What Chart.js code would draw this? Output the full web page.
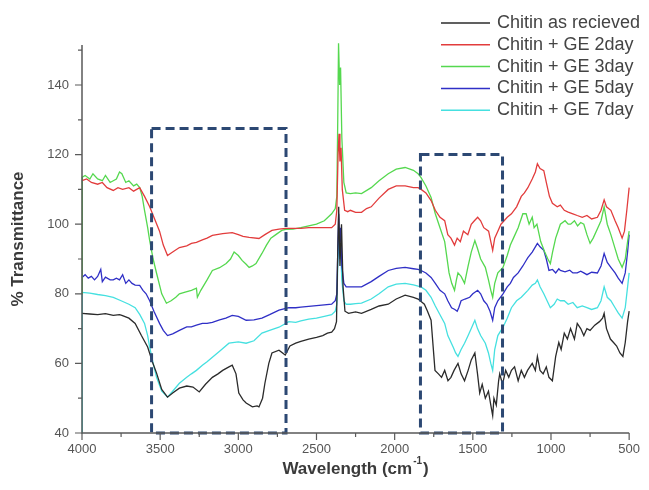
<!DOCTYPE html>
<html><head><meta charset="utf-8">
<script src="https://cdn.jsdelivr.net/npm/chart.js@4.4.1/dist/chart.umd.min.js"></script>
<style>html,body{margin:0;padding:0;background:#fff;}canvas{display:block;}</style>
</head><body>
<canvas id="c" width="649" height="490"></canvas>
<script>
// ---- data (wavenumber in cm^-1, % transmittance) ----
const seriesLabels = ['Chitin as recieved','Chitin + GE 2day','Chitin + GE 3day','Chitin + GE 5day','Chitin + GE 7day'];

const blackWn = [4000,3950,3900,3850,3800,3760,3745,3700,3660,3620,3580,3550,3523,3490,3453,3420,3377,3330,3290,3250,3210,3166,3130,3100,3060,3039,3015,2997,2970,2950,2910,2880,2868,2845,2830,2805,2785,2740,2700,2670,2633,2600,2550,2500,2460,2430,2403,2385,2372,2365,2358,2350,2340,2330,2318,2295,2250,2212,2150,2100,2041,1990,1933,1880,1850,1810,1790,1767,1742,1720,1700,1680,1659,1640,1620,1595,1575,1553,1530,1510,1487,1470,1456,1440,1420,1400,1385,1373,1365,1350,1335,1328,1310,1290,1270,1253,1233,1210,1190,1170,1150,1120,1100,1087,1070,1050,1030,1013,991,970,950,935,915,895,875,850,832,810,790,770,750,720,690,670,660,645,620,600,580,559,540,525,510,500];
const blackT  = [74.4,74.2,74.0,74.3,73.8,74.0,73.8,73.0,71.5,68,64.7,60.5,57.2,52.5,50.3,51.5,52.9,53.5,53.2,51.8,54,56,57,58,59,59.5,57,51.5,49.5,48.6,47.5,47.8,47.5,50,54.3,60,63,63.8,62.4,65,65.8,66.3,67,67.5,68,68.7,69,70,72,90,105,88,100,82,75,74.4,74.8,74.4,75.5,76.5,77,78.5,79.6,79,78.5,77,75,72.4,58,57,56,58,55,56,58,60,57,55,58,61,63,57,51.5,54,50,52,48,45,50,48,55,57,54,58,56,58,59,55,58,56,58,60,58,62,58,57,59,56,55,62,66,64,68.7,67,70,67,71.5,70,68,70,69.5,71,72,73,74.4,70,67,66,65,63,62,66,72,75];

const redWn = [4000,3970,3940,3900,3870,3840,3800,3770,3740,3700,3670,3631,3600,3567,3540,3504,3480,3453,3420,3377,3330,3300,3268,3230,3200,3166,3100,3039,3000,2970,2931,2868,2830,2785,2740,2696,2650,2600,2550,2500,2450,2403,2380,2370,2362,2356,2350,2343,2335,2320,2300,2283,2250,2212,2180,2150,2100,2041,1990,1933,1880,1850,1831,1800,1767,1740,1710,1680,1660,1640,1617,1600,1580,1560,1532,1510,1490,1469,1450,1430,1399,1385,1373,1360,1340,1320,1300,1280,1253,1220,1190,1170,1148,1120,1100,1087,1070,1046,1030,1010,991,960,940,915,890,860,832,800,770,740,703,680,660,645,617,590,570,545,530,515,500];
const redT  = [112.5,113,112,111.5,112,110.5,109.7,110.5,110,110.5,109.5,110.5,108,105,102,98,94,91,92,93.3,93.8,94.5,94.8,95.5,96,96.8,97.3,97.6,97,96.5,96.2,95.9,97,98.2,98.6,98.8,98.8,98.8,99,99,99,99,100,104,120,126,118,122,110,104,103.6,104,103.4,103.4,104.5,105,107.5,110,111,111,110.5,110.5,110,109,106.8,104,102,101,97,96,94,96,95,98,97,100,101,102,101,99,98,95,92.5,96,98,100,101,102,103,105,108,109,110.5,113,115,117.4,116,115.4,112,108,106,105,105.5,104,103.5,103,102.5,102,102.5,101.5,102,104,107,105,104,101,99,96,98,104,110.5];

const greenWn = [4000,3998,3980,3950,3930,3900,3870,3850,3820,3800,3780,3760,3745,3720,3700,3670,3650,3631,3615,3600,3580,3567,3545,3523,3490,3460,3430,3400,3377,3340,3300,3268,3262,3240,3200,3166,3120,3078,3050,3027,3000,2976,2950,2931,2910,2887,2849,2820,2792,2760,2722,2696,2650,2600,2550,2500,2450,2403,2380,2370,2364,2359,2352,2346,2338,2325,2310,2283,2250,2212,2150,2100,2041,1990,1933,1880,1850,1831,1800,1767,1740,1710,1680,1652,1635,1617,1605,1595,1575,1553,1530,1510,1487,1470,1450,1420,1400,1385,1373,1360,1340,1307,1280,1260,1240,1210,1180,1159,1140,1120,1108,1090,1066,1040,1020,1004,990,970,955,940,910,890,874,850,830,810,790,770,750,730,700,680,660,640,617,590,570,545,525,510,500];
const greenT  = [80,113.5,114,113,114.5,113,112.5,114,112,112.5,113,115,114.5,112,112.5,111,111.5,110.5,108,104,99,95.3,90,85.9,80,77.3,78,79,80,80.5,81,81.6,79,81,84,86.7,87.5,88.7,90,92,91,89.6,88.5,87.6,88,88.7,91.6,94,96,97,98.2,98.5,98.6,99,99.5,100,101,103,104.5,108,130,152,140,145,125,112,109,108.8,109,108.8,110.5,112.5,114.5,115.8,116.3,115.5,114.5,113.4,111,107.7,103,99,95,86,83,81,84,86,85,83,88,92,95.3,93,90,87.6,84,81,79,83,86,87.6,91,94,96,99,103,103,100,102,99,100,95,92,90,88.7,92,96,98,100,101,100,100,101,99.5,100.5,100,97,94.5,96,99,101,105,100,97,93,90,87.6,90,95,98];

const blueWn = [4000,3980,3960,3940,3920,3900,3880,3870,3850,3820,3800,3780,3760,3740,3720,3700,3680,3660,3631,3610,3590,3567,3540,3504,3480,3453,3420,3377,3330,3300,3268,3230,3200,3166,3120,3080,3039,3000,2950,2900,2849,2800,2740,2677,2633,2600,2550,2500,2450,2403,2380,2370,2364,2358,2352,2346,2338,2325,2310,2283,2250,2212,2150,2100,2041,1990,1933,1880,1850,1831,1800,1767,1740,1710,1680,1660,1636,1615,1600,1590,1575,1550,1520,1500,1469,1450,1430,1410,1390,1373,1360,1340,1307,1280,1260,1240,1210,1180,1160,1148,1120,1100,1087,1070,1046,1030,1013,990,970,950,940,910,880,860,832,810,790,770,740,703,680,660,640,617,590,570,545,525,510,500];
const blueT  = [84.7,85.5,84.5,85,84,85,87,83.5,84.8,84,84,84.5,84,85.5,83,84,83,82.5,82.4,81,80,78,75,71.5,69.5,68,68.5,69.5,70.5,70.5,71,71.5,71.5,71.8,72.5,73,73.8,73.5,72.4,72.5,73,74,75.3,76,76,76.2,76.4,76.6,76.8,77,78,80,92,103,95,99,88,83,82,82,82,82,83.5,85,86.7,87.3,87.6,87.2,87,86.7,86,84.7,83,81,80,78,76,75.5,75,76,78,78.5,79,80,81,80,78,77,75,72.4,76,78,80,82,83,84.7,86,88,89.5,90.4,92,93.5,94.5,93.5,92.5,90,86.7,87,86,87.2,86.7,86.3,86.8,86,86,86.5,86,85.5,86.2,86,88,91.6,89,87.6,86,84.5,83,86,92,97];

const cyanWn = [4000,3998,3950,3900,3850,3800,3750,3700,3660,3630,3600,3580,3567,3545,3523,3490,3453,3420,3377,3330,3300,3268,3230,3200,3166,3120,3060,3000,2950,2900,2849,2800,2740,2677,2633,2600,2550,2500,2450,2403,2380,2370,2364,2358,2352,2346,2338,2325,2310,2283,2250,2212,2150,2100,2041,1990,1933,1880,1850,1831,1800,1767,1740,1710,1680,1660,1626,1610,1595,1575,1553,1530,1510,1487,1470,1450,1420,1400,1385,1373,1360,1340,1307,1280,1253,1220,1190,1148,1120,1100,1087,1070,1046,1025,1004,980,960,940,915,890,860,832,800,770,740,703,680,660,640,617,590,570,545,525,510,500];
const cyanT  = [40,80.4,80.2,79.8,79.5,79,78,77,76,74,71.5,68,64.7,60,56,52,50.3,52,54.3,56,57,58,59.5,60.5,61.8,63.5,65.8,66.2,65.8,66.5,68.7,69.5,70.4,72,71.8,72.2,72.7,73,73.5,74,75,77,88,97,90,94,84,78,77,77,77.2,77.3,78.5,80,82,82.8,83,82.6,82.2,82,81,79,76.5,74,71.5,68,64.7,63,62,64,65.8,68,70,72.4,70,68,65.8,63,60,58,64,68,70.4,73,76,78,79,81,82.5,83,84,82,80,78,76,77,78.5,78,78,77,77.5,76,76.5,76,75.5,76,78,82,79,78,76,74.5,73,76,82,86];

const seriesWn = [blackWn, redWn, greenWn, blueWn, cyanWn];
const seriesT  = [blackT, redT, greenT, blueT, cyanT];
const seriesColors = ['#2b2b2b','#e23c3c','#55d84f','#2f2fc6','#45e0e0'];

// highlighted regions (cm^-1 / %T)
const boxFromWn = [3555, 1835];
const boxToWn   = [2695, 1310];
const boxTopT   = [127.5, 120];
const boxBottomT = 40;

const xTickLabels = [4000,3500,3000,2500,2000,1500,1000,500];
const yTickLabels = [40,60,80,100,120,140];

const FONT = '"Liberation Sans", Arial, sans-serif';

const datasets = seriesLabels.map((lab, i) => ({
  label: lab,
  data: seriesWn[i].map((w, k) => ({x: w, y: seriesT[i][k]})),
  borderColor: seriesColors[i],
  backgroundColor: seriesColors[i],
  borderWidth: 1.3,
  pointRadius: 0,
  tension: 0,
  clip: false
}));

const deco = {
  id: 'deco',
  afterDatasetsDraw(chart) {
    const {ctx, chartArea: a, scales: {x, y}} = chart;
    ctx.save();
    // dashed boxes
    ctx.strokeStyle = '#2c4873';
    ctx.lineWidth = 3;
    ctx.setLineDash([9, 5]);
    for (let i = 0; i < boxFromWn.length; i++) {
      const l = x.getPixelForValue(boxFromWn[i]);
      const r = x.getPixelForValue(boxToWn[i]);
      const t = y.getPixelForValue(boxTopT[i]);
      const b = y.getPixelForValue(boxBottomT);
      ctx.strokeRect(l, t, r - l, b - t);
    }
    ctx.setLineDash([]);
    // axes
    ctx.strokeStyle = '#5a5a5a';
    ctx.lineWidth = 1.5;
    ctx.beginPath();
    ctx.moveTo(a.left, a.top);
    ctx.lineTo(a.left, a.bottom);
    ctx.lineTo(a.right, a.bottom);
    ctx.stroke();
    ctx.lineWidth = 1.2;
    ctx.beginPath();
    for (let v = 40; v <= 150; v += 10) {
      const py = y.getPixelForValue(v);
      const len = v % 20 === 0 ? 7 : 4;
      ctx.moveTo(a.left - len, py); ctx.lineTo(a.left, py);
    }
    for (let v = 500; v <= 4000; v += 250) {
      const px = x.getPixelForValue(v);
      const len = v % 500 === 0 ? 7 : 4;
      ctx.moveTo(px, a.bottom); ctx.lineTo(px, a.bottom + len);
    }
    ctx.stroke();
    // axis titles
    ctx.fillStyle = '#3a3a3a';
    const big = 'bold 17px ' + FONT, small = 'bold 10px ' + FONT;
    ctx.textBaseline = 'middle';
    const cx = (a.left + a.right) / 2;
    const tx = 'Wavelength (cm';
    ctx.font = big; const w1 = ctx.measureText(tx).width;
    ctx.font = small; const w2 = ctx.measureText('-1').width;
    ctx.font = big; const w3 = ctx.measureText(')').width;
    const start = cx - (w1 + w2 + 2 + w3) / 2;
    ctx.textAlign = 'left';
    ctx.fillText(tx, start, 469);
    ctx.font = small;
    ctx.fillText('-1', start + w1 + 1, 461);
    ctx.font = big;
    ctx.fillText(')', start + w1 + w2 + 2, 469);
    ctx.save();
    ctx.translate(18, (a.top + a.bottom) / 2);
    ctx.rotate(-Math.PI / 2);
    ctx.textAlign = 'center';
    ctx.fillText('% Transmittance', 0, 0);
    ctx.restore();
    // legend
    ctx.font = '18px ' + FONT;
    ctx.textAlign = 'left';
    ctx.textBaseline = 'middle';
    for (let i = 0; i < seriesLabels.length; i++) {
      const ry = 23 + i * 21.8;
      ctx.strokeStyle = seriesColors[i];
      ctx.lineWidth = 1.5;
      ctx.beginPath(); ctx.moveTo(441, ry); ctx.lineTo(490, ry); ctx.stroke();
      ctx.fillStyle = '#444';
      ctx.fillText(seriesLabels[i], 497, ry);
    }
    ctx.restore();
  }
};

new Chart(document.getElementById('c'), {
  type: 'line',
  data: { datasets },
  options: {
    responsive: false,
    animation: false,
    layout: { padding: { top: 45, right: 17, left: 0, bottom: 0 } },
    plugins: { legend: { display: false }, tooltip: { enabled: false } },
    scales: {
      x: {
        type: 'linear', reverse: true, min: 500, max: 4000,
        afterFit(s) { s.height = 57; },
        afterBuildTicks(s) { s.ticks = xTickLabels.map(v => ({value: v})); },
        grid: { display: false, drawTicks: false },
        border: { display: false },
        ticks: { color: '#555', font: { family: FONT, size: 13 }, padding: 9, maxRotation: 0, autoSkip: false,
                 callback: v => String(v) }
      },
      y: {
        type: 'linear', min: 40, max: 151.5,
        afterFit(s) { s.width = 82; },
        afterBuildTicks(s) { s.ticks = yTickLabels.map(v => ({value: v})); },
        grid: { display: false, drawTicks: false },
        border: { display: false },
        ticks: { color: '#555', font: { family: FONT, size: 13 }, padding: 13, autoSkip: false,
                 callback: v => String(v) }
      }
    }
  },
  plugins: [deco]
});
</script>
</body></html>
